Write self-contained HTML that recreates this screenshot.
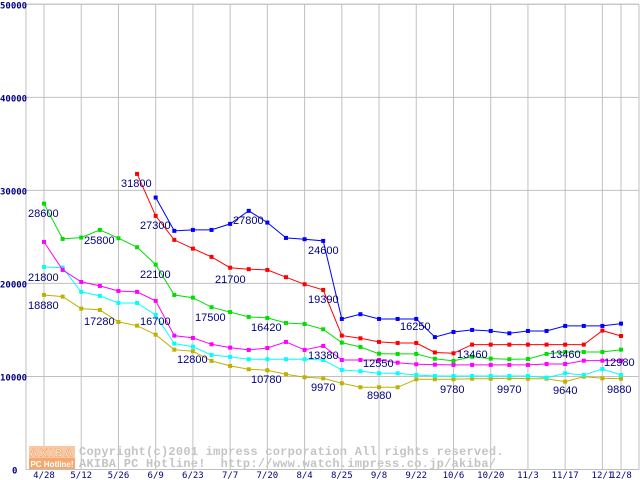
<!DOCTYPE html>
<html><head><meta charset="utf-8"><style>
html,body{margin:0;padding:0;background:#fff;}
svg{display:block;}
</style></head><body>
<svg id="chart" width="640" height="480" xmlns="http://www.w3.org/2000/svg" font-family="Liberation Sans, sans-serif">
<rect x="0" y="0" width="640" height="480" fill="#fff"/>
<g id="grid"></g>
<g id="watermark">
  <rect x="29" y="446" width="46" height="12" fill="#f9c9a3"/>
  <rect x="29" y="458" width="46" height="11" fill="#f7a86e"/>
  <text x="52" y="456.5" text-anchor="middle" font-size="11" font-weight="bold" fill="#fff" stroke="#f09a5c" stroke-width="0.6" letter-spacing="2">AKIBA</text>
  <text x="52" y="467" text-anchor="middle" font-size="8" font-weight="bold" fill="#fff">PC Hotline!</text>
  <text x="79" y="455" font-family="Liberation Mono, monospace" font-size="12" font-weight="bold" fill="#c4c4c4" letter-spacing="0.25">Copyright(c)2001 impress corporation All rights reserved.</text>
  <text x="79" y="467" font-family="Liberation Mono, monospace" font-size="12" font-weight="bold" fill="#c4c4c4" letter-spacing="0.25" xml:space="preserve">AKIBA PC Hotline!  http://www.watch.impress.co.jp/akiba/</text>
</g>
<g id="series"></g>
<g id="labels"></g>
<g id="axes"></g>
</svg>
<script>
const xLabels = ["4/28","5/12","5/26","6/9","6/23","7/7","7/20","8/4","8/25","9/8","9/22","10/6","10/20","11/3","11/17","12/1","12/8"];
const xLabelIdx = [0,2,4,6,8,10,12,14,16,18,20,22,24,26,28,30,31];
const yTicks = [0,10000,20000,30000,40000,50000];
const seriesBlue = [null,null,null,null,null,null,29230,25650,25750,25750,26400,27800,26540,24890,24750,24570,16180,16690,16180,16180,16180,14230,14780,15000,14890,14640,14890,14890,15430,15430,15430,15680];
const seriesRed = [null,null,null,null,null,31770,27260,24680,23740,22850,21690,21530,21450,20670,19910,19300,14390,14100,13710,13600,13600,12580,12490,13420,13420,13420,13420,13420,13420,13420,14930,14350];
const seriesGreen = [28580,24780,24930,25750,24860,23890,22020,18760,18470,17440,16920,16400,16290,15750,15640,15070,13640,13170,12450,12420,12420,11900,11670,12130,11920,11850,11880,12420,12630,12630,12630,12880];
const seriesMagenta = [24460,21450,20160,19730,19190,19090,18120,14390,14140,13460,13100,12850,13060,13710,12850,13280,11770,11770,11770,11480,11310,11270,11240,11240,11240,11240,11240,11340,11340,11700,11700,11700];
const seriesCyan = [21770,21700,19090,18660,17900,17900,16610,13530,13200,12310,12100,11850,11850,11850,11850,11770,10700,10560,10340,10340,10160,10050,10050,10050,10050,10050,10050,9870,10340,10160,10800,10160];
const seriesOlive = [18760,18580,17290,17150,15860,15460,14490,12880,12710,11670,11130,10770,10670,10240,9910,9800,9270,8840,8840,8840,9700,9700,9700,9760,9760,9800,9760,9760,9440,9980,9800,9760];
const labelTexts = ["28600","25800","21800","22100","18880","17280","16700","17500","12800","31800","27300","21700","27800","24600","19390","16420","13380","10780","9970","12550","8980","16250","13460","9780","9970","13460","9640","12980","9880"];
const labelX = [28,84,28,140,28,84,140,195,177,121,140,215,233,308,308,251,308,251,311,363,367,400,457,440,497,550,553,604,607];
const labelY = [213,240,277,274,305,321,321,317,359,183,225,279,220,250,299,327,355,379,387,363,395,326,354,389,389,354,390,362,389];

const NS="http://www.w3.org/2000/svg";
const L=26,R=639,T=4.3,B=469.5,x0=44,x1=621,N=32;
const xs=i=>x0+(x1-x0)*i/(N-1);
const ys=v=>B-(B-T)*v/50000;
function mk(tag,parent,attrs){const e=document.createElementNS(NS,tag);for(const k in attrs)e.setAttribute(k,attrs[k]);parent.appendChild(e);return e;}
const grid=document.getElementById('grid'),axes=document.getElementById('axes'),ser=document.getElementById('series'),lab=document.getElementById('labels');
yTicks.forEach(v=>{
  const ln=mk('line',grid,{x1:L,x2:R,y1:ys(v),y2:ys(v),stroke:'#c0c0c0','stroke-width':1});
  
  
  const t=mk('text',axes,{x:v===0?12:0,y:ys(v)+4,'font-size':9,'font-weight':'bold',fill:'#000080','font-family':'DejaVu Sans Mono, monospace'});
  
  
  t.textContent=String(v);
});
xLabelIdx.forEach((idx,k)=>{
  const x=xs(idx);
  const ln=mk('line',grid,{x1:x,x2:x,y1:T,y2:B,stroke:'#c0c0c0','stroke-width':1});
  
  
  const t=mk('text',axes,{x:x,y:478,'text-anchor':'middle','font-size':9,fill:'#000080','font-family':'DejaVu Sans Mono, monospace'});
  
  
  t.textContent=xLabels[k];
});
[[L,T,L,B],[R,T,R,B],[L,T,R,T],[L,B,R,B]].forEach(c=>{
  const ln=mk('line',grid,{x1:c[0],y1:c[1],x2:c[2],y2:c[3],stroke:'#c0c0c0','stroke-width':1});
  
  
});
const all=[[seriesOlive,'#c0b000','series-olive'],[seriesCyan,'#00ffff','series-cyan'],[seriesMagenta,'#ff00ff','series-magenta'],[seriesGreen,'#00e000','series-green'],[seriesRed,'#ff0000','series-red'],[seriesBlue,'#0000ff','series-blue']];
all.forEach(([d,c,n])=>{
  const g=mk('g',ser,{});
  
  
  let pts=[];
  d.forEach((v,i)=>{if(v!=null)pts.push(xs(i).toFixed(1)+','+ys(v).toFixed(1));});
  const pl=mk('polyline',g,{points:pts.join(' '),fill:'none',stroke:c,'stroke-width':1});
  
  
  d.forEach((v,i)=>{if(v==null)return;
    const r=mk('rect',g,{x:xs(i)-2,y:ys(v)-2,width:4,height:4,fill:c});
    
    
  });
});
labelTexts.forEach((s,i)=>{
  const t=mk('text',lab,{x:labelX[i],y:labelY[i]+4,'font-size':11,fill:'#000080'});
  
  
  t.textContent=s;
});
</script>
</body></html>
